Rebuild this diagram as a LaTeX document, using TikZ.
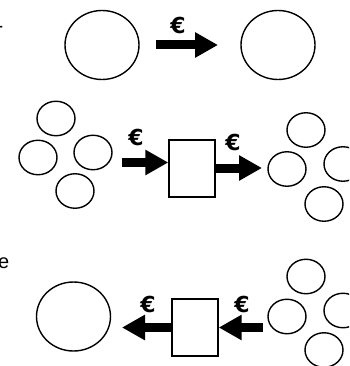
\documentclass[tikz,border=0pt]{standalone}
\usepackage{fontspec}
\setmainfont{Liberation Sans}
\newfontfamily\eurofont{DejaVu Sans}
\usetikzlibrary{arrows.meta,shapes.geometric}
\begin{document}
\begin{tikzpicture}[x=1pt,y=-1pt,
  blob/.style={draw, line width=1.4pt, ellipse, inner sep=0pt, minimum width=38pt, minimum height=34.5pt},
  bigblob/.style={draw, line width=1.4pt, ellipse, inner sep=0pt, minimum width=74pt, minimum height=69pt},
  box/.style={draw, line width=1.4pt, rectangle, inner sep=0pt, minimum width=46pt, minimum height=57pt},
  euro/.style={inner sep=0pt, font=\eurofont\bfseries\fontsize{22}{22}\selectfont},
  txt/.style={inner sep=0pt, font=\fontsize{20}{20}\selectfont},
  bigarrow/.style={line width=9pt, line cap=butt, -{Triangle[length=23pt,width=24pt]}}]
\useasboundingbox (0,0) rectangle (349,366);
\clip (0,0) rectangle (349,366);
% stray texts
\node[txt, anchor=base east] (dash) at (3.5,33) {-};
\node[txt, anchor=base east] (e) at (9.5,268) {e};
% top row
\node[bigblob] (a1) at (102,45) {};
\node[bigblob] (a2) at (278,45) {};
\coordinate (t1s) at (156,45);
\coordinate (t1e) at (218,45);
\draw[bigarrow] (t1s) -- (t1e);
\node[euro] (eu1) at (178,25) {€};
% middle row
\node[blob] (m1) at (56,118.5) {};
\node[blob] (m2) at (38,157.5) {};
\node[blob] (m3) at (93,152.5) {};
\node[blob] (m4) at (75,191) {};
\node[box] (mb) at (192,168.5) {};
\node[blob] (n1) at (306,130) {};
\node[blob] (n2) at (287,169) {};
\node[blob] (n3) at (343,164) {};
\node[blob] (n4) at (324,204) {};
\coordinate (m1s) at (122,162.5);
\coordinate (m1e) at (mb.west|-m1s);
\draw[bigarrow] (m1s) -- (m1e);
\coordinate (m2s) at (mb.east|-0,168);
\coordinate (m2e) at (262,168);
\draw[bigarrow] (m2s) -- (m2e);
\node[euro] (eu2) at (136,137.5) {€};
\node[euro] (eu3) at (233,142.5) {€};
% bottom row
\node[bigblob] (b1) at (73.5,316.5) {};
\node[box] (bb) at (195,327.5) {};
\node[blob] (r1) at (306,276.5) {};
\node[blob] (r2) at (287,316.5) {};
\node[blob] (r3) at (343,310.5) {};
\node[blob] (r4) at (324,350) {};
\coordinate (b1s) at (bb.west|-0,327.5);
\coordinate (b1e) at (122,327.5);
\draw[bigarrow] (b1s) -- (b1e);
\coordinate (b2s) at (263,327.5);
\coordinate (b2e) at (bb.east|-0,327.5);
\draw[bigarrow] (b2s) -- (b2e);
\node[euro] (eu4) at (148,304.5) {€};
\node[euro] (eu5) at (242,304.5) {€};
\end{tikzpicture}
\end{document}
